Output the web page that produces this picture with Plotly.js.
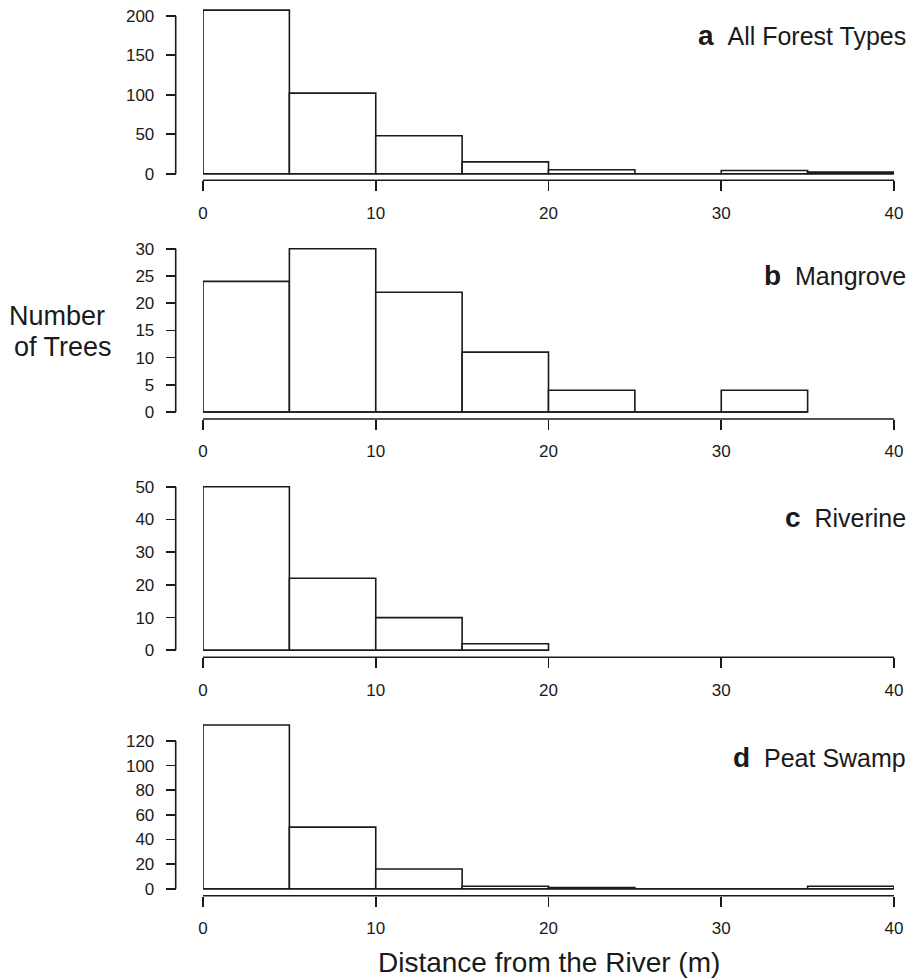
<!DOCTYPE html>
<html>
<head>
<meta charset="utf-8">
<script src="https://cdn.plot.ly/plotly-3.0.1.min.js"></script>
<style>html,body{margin:0;padding:0;background:#fff;}#chart{width:917px;height:979px;}</style>
</head>
<body>
<div id="chart"></div>
<script>
// ---- data ----
var binWidth = 5;
var allBreaks = [0, 5, 10, 15, 20, 25, 30, 35, 40];
var countsAll = [207, 102, 48, 15, 5, 0, 4, 2];
var countsMangrove = [24, 30, 22, 11, 4, 0, 4];
var countsRiverine = [50, 22, 10, 2];
var countsPeat = [133, 50, 16, 2, 1, 0, 0, 2];
var panelLetters = ["a", "b", "c", "d"];
var panelNames = ["All Forest Types", "Mangrove", "Riverine", "Peat Swamp"];
var yTicksA = [0, 50, 100, 150, 200];
var yTicksB = [0, 5, 10, 15, 20, 25, 30];
var yTicksC = [0, 10, 20, 30, 40, 50];
var yTicksD = [0, 20, 40, 60, 80, 100, 120];
var xTicks = [0, 10, 20, 30, 40];
var xTitle = "Distance from the River (m)";
var yTitleLines = ["Number", "of Trees"];

// ---- layout geometry (pixels) ----
var W = 917, H = 979;
var INK = "#1a1a1a";
var FONT = "Liberation Sans, Arial, Helvetica, sans-serif";
var xLeftPx = 203, xRightPx = 894, yAxisPx = 175.7;
var geom = [
  {zero: 173.7, topTick: 15.7, axis: 180.3, top: 4,   label: 36},
  {zero: 412.0, topTick: 248.7, axis: 419.0, top: 244, label: 276},
  {zero: 650.3, topTick: 486.7, axis: 657.3, top: 482, label: 517},
  {zero: 888.7, topTick: 741.0, axis: 895.7, top: 720, label: 757}
];
var countsList = [countsAll, countsMangrove, countsRiverine, countsPeat];
var yTicksList = [yTicksA, yTicksB, yTicksC, yTicksD];

var data = [];
var layout = {
  width: W, height: H,
  margin: {l: 0, r: 0, t: 0, b: 0},
  paper_bgcolor: "#fff", plot_bgcolor: "rgba(0,0,0,0)",
  showlegend: false,
  bargap: 0,
  font: {family: FONT, color: INK},
  shapes: [], annotations: []
};

for (var i = 0; i < 4; i++) {
  var g = geom[i];
  var counts = countsList[i];
  var ticks = yTicksList[i];
  var topTick = ticks[ticks.length - 1];
  var ppu = (g.zero - g.topTick) / topTick;
  var rLow = -(g.axis - g.zero) / ppu;
  var rHigh = (g.zero - g.top) / ppu;
  var sfx = i === 0 ? "" : String(i + 1);
  var xa = "x" + sfx, ya = "y" + sfx;
  var centers = [];
  for (var k = 0; k < counts.length; k++) centers.push(allBreaks[k] + binWidth / 2);
  data.push({
    type: "bar", x: centers, y: counts, width: binWidth,
    xaxis: xa, yaxis: ya,
    marker: {color: "#fff", line: {color: INK, width: 1.6}},
    hoverinfo: "x+y"
  });
  data.push({
    type: "scatter", mode: "lines",
    x: [allBreaks[0], allBreaks[counts.length]], y: [0, 0],
    xaxis: xa, yaxis: ya,
    line: {color: INK, width: 1.6}, hoverinfo: "skip"
  });
  layout["xaxis" + sfx] = {
    domain: [xLeftPx / W, xRightPx / W], range: [0, 40],
    anchor: ya, showline: false, zeroline: false, showgrid: false,
    ticks: "outside", ticklen: 10, tickwidth: 1.6, tickcolor: INK,
    tickvals: xTicks, ticktext: xTicks.map(String),
    ticklabelstandoff: 7,
    tickfont: {family: FONT, size: 17, color: INK}, fixedrange: true
  };
  layout["yaxis" + sfx] = {
    domain: [1 - g.axis / H, 1 - g.top / H], range: [rLow, rHigh],
    anchor: "free", position: yAxisPx / W,
    showline: false, zeroline: false, showgrid: false,
    ticks: "outside", ticklen: 10, tickwidth: 1.6, tickcolor: INK,
    tickvals: ticks, ticktext: ticks.map(String),
    ticklabelstandoff: 8,
    tickfont: {family: FONT, size: 17, color: INK}, fixedrange: true
  };
  layout.shapes.push({
    type: "line", xref: xa, yref: ya + " domain",
    x0: xTicks[0], x1: xTicks[xTicks.length - 1], y0: 0, y1: 0,
    line: {color: INK, width: 1.6}
  });
  layout.shapes.push({
    type: "line", xref: "paper", yref: ya,
    x0: yAxisPx / W, x1: yAxisPx / W, y0: ticks[0], y1: topTick,
    line: {color: INK, width: 1.6}
  });
  layout.annotations.push({
    xref: "paper", yref: "paper", x: 908 / W, y: 1 - g.label / H,
    xanchor: "right", yanchor: "middle", showarrow: false,
    text: "<b><span style='font-size:28px'>" + panelLetters[i] + "</span></b>\u00a0\u00a0" + panelNames[i],
    font: {family: FONT, size: 25, color: INK}
  });
}

layout.annotations.push({
  xref: "paper", yref: "paper", x: 549 / W, y: 1 - 962 / H,
  xanchor: "center", yanchor: "middle", showarrow: false,
  text: xTitle, font: {family: FONT, size: 28, color: INK}
});
layout.annotations.push({
  xref: "paper", yref: "paper", x: 7 / W, y: 1 - 316 / H,
  xanchor: "left", yanchor: "middle", showarrow: false,
  text: yTitleLines[0], font: {family: FONT, size: 27, color: INK}
});
layout.annotations.push({
  xref: "paper", yref: "paper", x: 12 / W, y: 1 - 347 / H,
  xanchor: "left", yanchor: "middle", showarrow: false,
  text: yTitleLines[1], font: {family: FONT, size: 27, color: INK}
});

Plotly.newPlot("chart", data, layout, {staticPlot: true, displayModeBar: false});
</script>
</body>
</html>
